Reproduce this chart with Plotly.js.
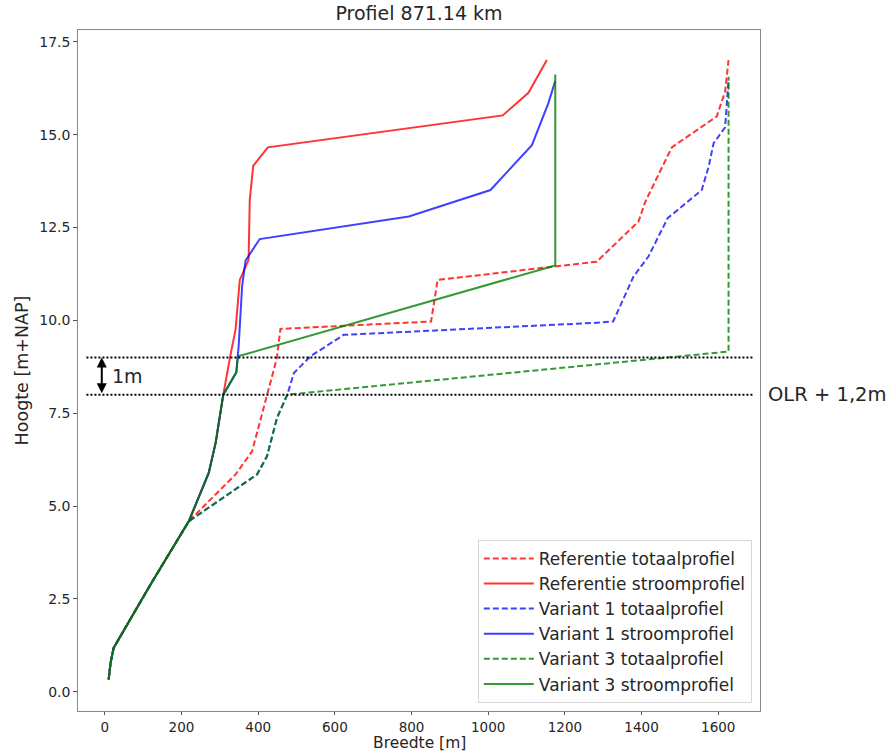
<!DOCTYPE html>
<html>
<head>
<meta charset="utf-8">
<script src="https://cdn.plot.ly/plotly-3.0.1.min.js"></script>
<style>html,body{margin:0;padding:0;background:#fff;}#chart{width:886px;height:753px;}</style>
</head>
<body>
<div id="chart"></div>
<script>
// Referentie totaalprofiel
var refTotX = [10, 15, 23, 120, 219, 341, 384, 410, 449, 458, 851, 868, 1283, 1392, 1410, 1479, 1596, 1618, 1627];
var refTotY = [0.33, 0.78, 1.18, 2.9, 4.59, 5.85, 6.47, 7.5, 8.99, 9.77, 9.97, 11.09, 11.58, 12.66, 13.2, 14.66, 15.49, 16.16, 17.01];

// Referentie stroomprofiel
var refStrX = [10, 15, 23, 120, 219, 271, 289, 309, 327, 341, 352, 375, 378, 387, 425, 1038, 1105, 1153];
var refStrY = [0.33, 0.78, 1.18, 2.9, 4.59, 5.89, 6.7, 8.0, 9.03, 9.75, 11.09, 11.63, 13.24, 14.16, 14.66, 15.52, 16.13, 17.01];

// Variant 1 totaalprofiel
var v1TotX = [10, 15, 23, 120, 219, 397, 423, 449, 476, 493, 536, 623, 1292, 1326, 1379, 1418, 1468, 1557, 1575, 1588, 1618, 1627];
var v1TotY = [0.33, 0.78, 1.18, 2.9, 4.59, 5.85, 6.34, 7.37, 8.0, 8.58, 9.03, 9.61, 9.94, 9.97, 11.18, 11.72, 12.75, 13.51, 14.14, 14.77, 15.2, 16.47];

// Variant 1 stroomprofiel
var v1StrX = [10, 15, 23, 120, 219, 271, 289, 309, 343, 347, 349, 358, 367, 404, 793, 1006, 1114, 1157, 1175];
var v1StrY = [0.33, 0.78, 1.18, 2.9, 4.59, 5.89, 6.7, 8.0, 8.6, 9.03, 9.3, 10.91, 11.61, 12.19, 12.8, 13.51, 14.72, 15.85, 16.45];

// Variant 3 totaalprofiel
var v3TotX = [10, 15, 23, 120, 219, 397, 423, 449, 476, 1627, 1627];
var v3TotY = [0.33, 0.78, 1.18, 2.9, 4.59, 5.85, 6.34, 7.37, 8.0, 9.16, 16.56];

// Variant 3 stroomprofiel
var v3StrX = [10, 15, 23, 120, 219, 271, 289, 309, 343, 347, 1175, 1175];
var v3StrY = [0.33, 0.78, 1.18, 2.9, 4.59, 5.89, 6.7, 8.0, 8.6, 9.03, 11.48, 16.62];

var seriesNames = ["Referentie totaalprofiel", "Referentie stroomprofiel",
                   "Variant 1 totaalprofiel", "Variant 1 stroomprofiel",
                   "Variant 3 totaalprofiel", "Variant 3 stroomprofiel"];

// Reference levels (dotted lines)
var levelY = [8, 9];
var levelXRange = [-48, 1692];
var arrowX = -8;
var xTicks = [0, 200, 400, 600, 800, 1000, 1200, 1400, 1600];
var yTicks = [0, 2.5, 5, 7.5, 10, 12.5, 15, 17.5];

var red = "rgba(255,0,0,0.8)";
var blue = "rgba(0,0,255,0.75)";
var green = "rgba(0,128,0,0.8)";
var dashed = "6px,3px";

function tr(x, y, name, color, dash) {
  return {x: x, y: y, name: name, type: "scatter", mode: "lines",
          line: {color: color, width: 2, dash: dash || "solid"}};
}

var data = [
  tr(refTotX, refTotY, seriesNames[0], red, dashed),
  tr(refStrX, refStrY, seriesNames[1], red),
  tr(v1TotX, v1TotY, seriesNames[2], blue, dashed),
  tr(v1StrX, v1StrY, seriesNames[3], blue),
  tr(v3TotX, v3TotY, seriesNames[4], green, dashed),
  tr(v3StrX, v3StrY, seriesNames[5], green)
];

var shapes = levelY.map(function (v) {
  return {type: "line", xref: "x", yref: "y", x0: levelXRange[0], x1: levelXRange[1], y0: v, y1: v,
          line: {color: "black", width: 2, dash: "2px,2px"}};
});

var font = "DejaVu Sans, Liberation Sans, sans-serif";
var txt = "#262626";
var layout = {
  width: 886, height: 753,
  margin: {l: 78, r: 126, t: 30, b: 42},
  paper_bgcolor: "white", plot_bgcolor: "white",
  font: {family: font, color: txt},
  title: {text: "Profiel 871.14 km", font: {size: 19, family: font, color: txt},
          x: 0.5, xref: "paper", y: 0.982, yanchor: "middle"},
  showlegend: true,
  legend: {x: 0.988, y: 0.012, xanchor: "right", yanchor: "bottom",
           bgcolor: "white", bordercolor: "#d6d6d6", borderwidth: 1, itemwidth: 50,
           font: {size: 17, family: font, color: txt}, tracegroupgap: 0},
  xaxis: {range: [-70, 1709], tickvals: xTicks, ticks: "outside", ticklen: 3, tickcolor: "#555",
          showgrid: false, zeroline: false, showline: true, linecolor: "#888", linewidth: 1.3, mirror: true,
          tickfont: {size: 13.5, family: font, color: txt}},
  yaxis: {range: [-0.52, 17.82], tickvals: yTicks, tickformat: ".1f", ticks: "outside", ticklen: 3.5, tickcolor: "#555",
          showgrid: false, zeroline: false, showline: true, linecolor: "#888", linewidth: 1.3, mirror: true,
          tickfont: {size: 14, family: font, color: txt},
          title: {text: "Hoogte [m+NAP]", font: {size: 17.5, family: font, color: txt}, standoff: 6}},
  shapes: shapes,
  annotations: [
    {x: 0.5, y: -42 / 681, xref: "paper", yref: "paper", text: "Breedte [m]", showarrow: false,
     xanchor: "center", yanchor: "bottom", borderpad: 0, font: {size: 15.5, family: font, color: txt}},
    {x: arrowX, y: levelY[1], ax: arrowX, ay: levelY[0], xref: "x", yref: "y", axref: "x", ayref: "y",
     text: "", showarrow: true, arrowhead: 2, arrowside: "end+start", arrowsize: 1, arrowwidth: 2, arrowcolor: "black"},
    {x: arrowX + 22, y: (levelY[0] + levelY[1]) / 2, xref: "x", yref: "y", text: "1m", showarrow: false,
     xanchor: "left", yanchor: "middle", font: {size: 19, family: font, color: txt}},
    {x: 1.009, y: levelY[0], xref: "paper", yref: "y", text: "OLR + 1,2m", showarrow: false,
     xanchor: "left", yanchor: "middle", font: {size: 19.5, family: font, color: txt}}
  ]
};

Plotly.newPlot("chart", data, layout, {displayModeBar: false, staticPlot: true});
</script>
</body>
</html>
